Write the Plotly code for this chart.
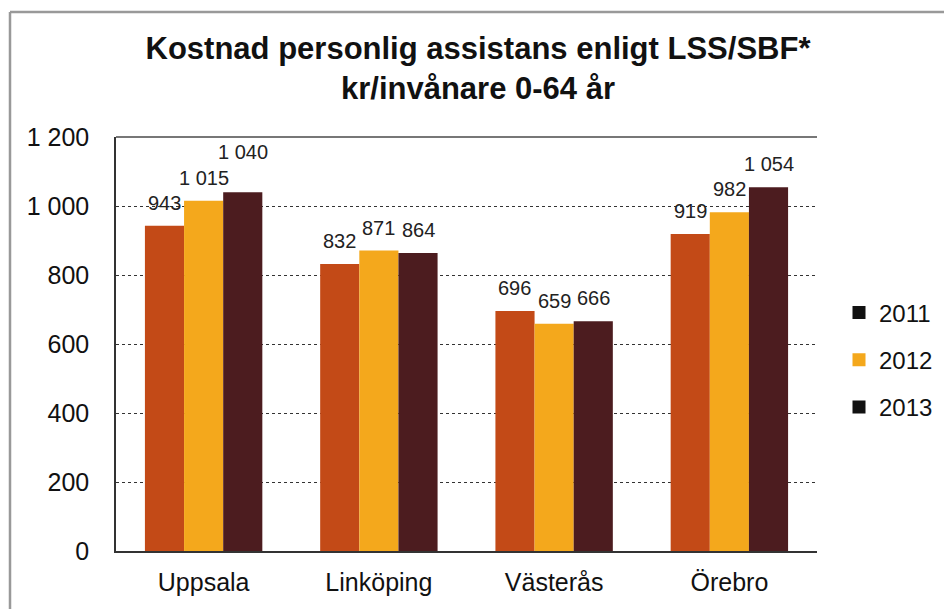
import plotly.graph_objects as go

categories = ["Uppsala", "Linköping", "Västerås", "Örebro"]
years = ["2011", "2012", "2013"]
v2011 = [943, 832, 696, 919]
v2012 = [1015, 871, 659, 982]
v2013 = [1040, 864, 666, 1054]
series = [v2011, v2012, v2013]
bar_colors = ["#C34A17", "#F4A81C", "#4C1C1F"]
legend_colors = ["#111111", "#F4A81C", "#111111"]
ytick_vals = [0, 200, 400, 600, 800, 1000, 1200]
ytick_text = ["0", "200", "400", "600", "800", "1 000", "1 200"]

def fmt(v):
    return f"{v:,}".replace(",", " ")

W, H = 944, 601
L, T, PW, PH = 108, 129, 701, 414
R = W - L - PW
B = H - T - PH
BARGAP = 0.33
NS = len(series)
BW = (1 - BARGAP) / NS

fig = go.Figure()
for name, vals, col in zip(years, series, bar_colors):
    fig.add_trace(go.Bar(
        x=categories, y=vals, name=name, marker_color=col,
        marker_line_width=0, showlegend=False,
    ))
for name, col in zip(years, legend_colors):
    fig.add_trace(go.Scatter(
        x=[None], y=[None], mode="markers", name=name, legendgroup=name,
        marker=dict(symbol="square", size=13, color=col),
    ))

# data labels above the bars; a label that would collide with its left
# neighbour (both wide, similar heights) is lifted one step, as in the original
annotations = []
for i, cat in enumerate(categories):
    prev = None
    for j, vals in enumerate(series):
        v = vals[i]
        txt = fmt(v)
        lift = 23
        if prev is not None:
            pv, ptxt, plift = prev
            if len(txt) > 3 and len(ptxt) > 3 and abs(v - pv) < 60 and plift == 23:
                lift = 40
        annotations.append(dict(
            x=i + (j - (NS - 1) / 2) * BW, y=v, xref="x", yref="y",
            text=txt, showarrow=False, yshift=lift, yanchor="middle",
            font=dict(size=20, color="#222222"),
        ))
        prev = (v, txt, lift)

fig.update_layout(
    width=W, height=H,
    paper_bgcolor="white", plot_bgcolor="white",
    margin=dict(l=L, r=R, t=T, b=B, autoexpand=False),
    barmode="group", bargap=BARGAP, bargroupgap=0,
    font=dict(family="Liberation Sans, Arial", color="#111111"),
    title=dict(
        text="<b>Kostnad personlig assistans enligt LSS/SBF*<br>kr/invånare 0-64 år</b>",
        x=470 / W, xanchor="center", yref="container",
        y=1 - 51 / H, yanchor="top",
        font=dict(size=31, color="#111111"),
    ),
    legend=dict(
        x=(831 - L) / PW, xanchor="left", y=1 - (352 - T) / PH, yanchor="middle",
        font=dict(size=24), itemsizing="trace", tracegroupgap=13,
        itemwidth=30,
    ),
    xaxis=dict(
        showline=True, linecolor="#333333", linewidth=1.5,
        tickfont=dict(size=25), ticks="", showgrid=False,
        ticklabelstandoff=8, automargin=False,
    ),
    yaxis=dict(
        range=[0, 1200], tickvals=ytick_vals, ticktext=ytick_text,
        showline=True, linecolor="#333333", linewidth=1.5,
        showgrid=True, gridcolor="#333333", griddash="dot", gridwidth=1,
        tickfont=dict(size=25), ticks="", zeroline=False,
        ticklabelstandoff=20, automargin=False,
    ),
    annotations=annotations,
)
# top border of plot area
fig.add_shape(type="line", xref="paper", yref="paper", x0=0, x1=1, y0=1, y1=1,
              line=dict(color="#777777", width=2))
# outer frame of the scanned chart (left and top edges)
fx = (2 - L) / PW
fy = 1 + (T - 4) / PH
fig.add_shape(type="line", xref="paper", yref="paper",
              x0=fx, x1=fx, y0=-B / PH, y1=fy,
              line=dict(color="#999999", width=2.5))
fig.add_shape(type="line", xref="paper", yref="paper",
              x0=fx, x1=1 + R / PW, y0=fy, y1=fy,
              line=dict(color="#999999", width=2.5))

fig.write_html("out.html")
